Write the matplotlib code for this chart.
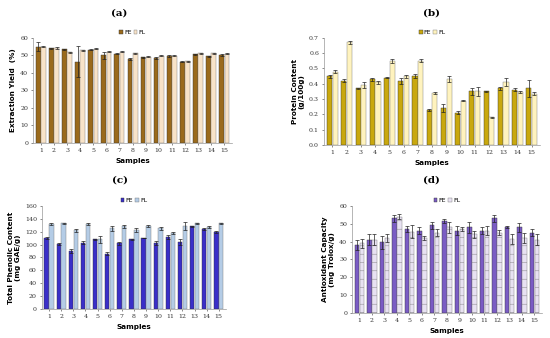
import numpy as np
import matplotlib.pyplot as plt

samples = [str(i) for i in range(1, 16)]

# (a) extraction yield (%)
yield_fe = [55, 54, 53.5, 46.5, 53.2, 50, 51, 48, 48.8, 48.3, 49.8, 46.5, 50.7, 49.4, 50.3]
yield_fe_err = [2.5, 0.3, 0.3, 9, 0.3, 1.8, 0.3, 0.5, 0.3, 0.5, 0.5, 0.3, 0.3, 0.5, 0.5]
yield_fl = [54.8, 54.2, 51.8, 52.8, 53.8, 52, 52.2, 51.3, 49.2, 49.8, 49.8, 46.6, 51.2, 51.2, 51]
yield_fl_err = [0.3, 0.3, 0.3, 0.3, 0.3, 0.3, 0.3, 0.3, 0.3, 0.3, 0.3, 0.3, 0.3, 0.3, 0.5]

# (b) protein content (g/100g)
prot_fe = [0.45, 0.42, 0.37, 0.43, 0.44, 0.42, 0.45, 0.23, 0.24, 0.21, 0.35, 0.35, 0.37, 0.36, 0.37]
prot_fe_err = [0.01, 0.01, 0.005, 0.01, 0.005, 0.02, 0.015, 0.005, 0.025, 0.01, 0.025, 0.003, 0.01, 0.01, 0.055]
prot_fl = [0.48, 0.67, 0.39, 0.41, 0.55, 0.45, 0.55, 0.34, 0.43, 0.29, 0.35, 0.18, 0.41, 0.345, 0.335]
prot_fl_err = [0.01, 0.01, 0.02, 0.01, 0.015, 0.01, 0.01, 0.005, 0.02, 0.005, 0.03, 0.005, 0.025, 0.005, 0.01]

# (c) total phenolic content (mg GAE/g)
phen_fe = [110, 101, 90, 103, 108, 86, 102, 108, 110, 103, 112, 104, 128, 124, 120]
phen_fe_err = [1.5, 1, 3, 2, 1, 2, 2, 1, 0.5, 3, 3, 4, 1, 2, 1.5]
phen_fl = [132, 133, 122, 132, 108, 125, 128, 123, 129, 125, 118, 129, 133, 127, 133]
phen_fl_err = [1.5, 0.5, 2, 1, 5, 4, 3, 3, 1.5, 2, 1.5, 6, 1, 2, 1]

# (d) antioxidant capacity (mg Trolox/g)
anti_fe = [38, 41, 39.5, 53, 47, 46, 49, 51.5, 46, 48, 46, 53, 48, 48, 45]
anti_fe_err = [3, 3, 3.5, 2, 1.5, 2, 2, 1, 2.5, 3, 2, 2, 0.5, 2.5, 2]
anti_fl = [39, 41, 42, 54, 45.5, 42, 45, 48, 47, 44, 46, 45, 41.5, 42, 41]
anti_fl_err = [2.5, 3, 2, 1.5, 3.5, 1, 2, 3, 1, 2, 2.5, 1.5, 3, 3, 3]

plt.rcParams['font.family'] = 'DejaVu Sans'
plt.rcParams['hatch.linewidth'] = 0.3
plt.rcParams['hatch.color'] = '#9a94aa'
fig = plt.figure(figsize=(5.5, 3.38), dpi=100)

panels = [
    ([0.060, 0.577, 0.362, 0.311], yield_fe, yield_fe_err, yield_fl, yield_fl_err,
     '#9A6A1C', '#F8E3C8', None, (0, 60), np.arange(0, 61, 10), '%d',
     'Extraction Yield  (%)', '(a)', (0.216, 0.962)),
    ([0.589, 0.571, 0.393, 0.317], prot_fe, prot_fe_err, prot_fl, prot_fl_err,
     '#C9A80E', '#FFF3BE', None, (0, 0.7), np.arange(0, 0.71, 0.1), '%.1f',
     'Protein Content\n(g/100g)', '(b)', (0.785, 0.962)),
    ([0.076, 0.086, 0.335, 0.305], phen_fe, phen_fe_err, phen_fl, phen_fl_err,
     '#3A2FC8', '#B4CCE6', None, (0, 160), np.arange(0, 161, 20), '%d',
     'Total Phenolic Content\n(mg GAE/g)', '(c)', (0.218, 0.468)),
    ([0.640, 0.074, 0.345, 0.317], anti_fe, anti_fe_err, anti_fl, anti_fl_err,
     '#7A5CC4', '#E8E2F2', '--', (0, 60), np.arange(0, 61, 10), '%d',
     'Antioxidant Capacity\n(mg Trolox/g)', '(d)', (0.785, 0.468)),
]

x = np.arange(len(samples))
w = 0.36
for (rect, fe, fe_err, fl, fl_err, c_fe, c_fl, hatch, ylim, yt, fmt,
     ylabel, title, tpos) in panels:
    ax = fig.add_axes(rect)
    err_kw = dict(ecolor='#222222', elinewidth=0.5, capsize=1.2, capthick=0.5)
    ax.bar(x - w / 2 - 0.02, fe, w, yerr=fe_err, color=c_fe, edgecolor='#333333',
           linewidth=0.3, error_kw=err_kw, label='FE')
    ax.bar(x + w / 2 + 0.02, fl, w, yerr=fl_err, color=c_fl, edgecolor='#777777',
           linewidth=0.3, hatch=hatch, error_kw=err_kw, label='FL')
    ax.set_xlim(-0.6, len(samples) - 0.4)
    ax.set_ylim(*ylim)
    ax.set_yticks(yt)
    ax.set_yticklabels([fmt % v for v in yt])
    ax.set_xticks(x)
    ax.set_xticklabels(samples)
    ax.tick_params(labelsize=4.5, length=1.5, width=0.4, pad=2, colors='#333333')
    for lab in ax.get_xticklabels() + ax.get_yticklabels():
        lab.set_family('DejaVu Serif')
    for s in ['top', 'right']:
        ax.spines[s].set_visible(False)
    ax.spines['left'].set_color('#999999')
    ax.spines['bottom'].set_color('#999999')
    ax.spines['left'].set_linewidth(0.5)
    ax.spines['bottom'].set_linewidth(0.5)
    ax.set_xlabel('Samples', fontsize=5.2, fontweight='bold', labelpad=4)
    ax.set_ylabel(ylabel, fontsize=5.2, fontweight='bold', labelpad=3)
    ax.legend(loc='center', bbox_to_anchor=(0.5, 1.05), ncol=2, fontsize=4.5,
              frameon=False, handlelength=0.6, handleheight=0.6,
              handletextpad=0.2, columnspacing=0.3, borderpad=0)
    fig.text(tpos[0], tpos[1], title, ha='center', va='center', fontsize=7.5,
             fontweight='bold', family='DejaVu Serif')

fig.savefig('out.png', dpi=100)
